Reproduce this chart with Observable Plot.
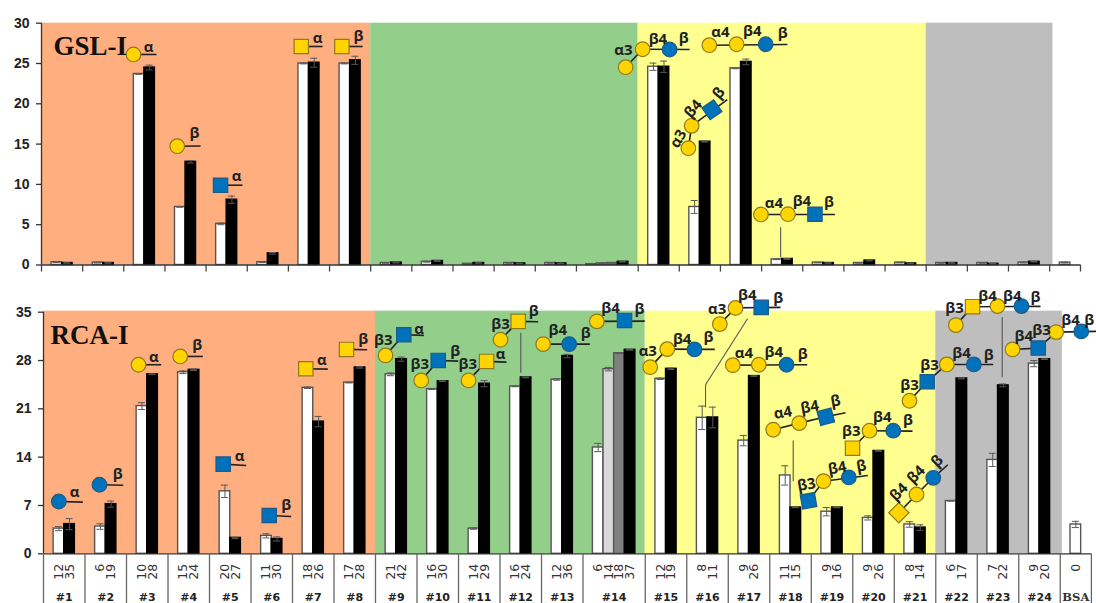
<!DOCTYPE html>
<html>
<head>
<meta charset="utf-8">
<script src="https://cdn.jsdelivr.net/npm/d3@7"></script>
<script src="https://cdn.jsdelivr.net/npm/@observablehq/plot@0.6"></script>
<style>
html,body{margin:0;padding:0;background:#fff;overflow:hidden}
#page{position:relative;width:1096px;height:603px}
#page svg{position:absolute;left:0;overflow:visible;background:transparent}
</style>
</head>
<body>
<div id="page"></div>
<script>
// ---------- categories ----------
const groupNames = ["#1","#2","#3","#4","#5","#6","#7","#8","#9","#10","#11","#12","#13","#14","#15","#16","#17","#18","#19","#20","#21","#22","#23","#24","BSA"];
// Numbers printed under each bar of a group
const barCounts = [[12,35],[6,19],[10,28],[15,24],[20,27],[11,30],[18,26],[17,28],[21,42],[16,30],[14,29],[16,24],[12,36],[6,14,18,37],[12,19],[8,11],[9,26],[11,15],[9,16],[9,26],[8,14],[6,17],[7,22],[9,20],[0]];

// ---------- GSL-I values (bars of each group, then error half-widths) ----------
const gslValues = [[.35,.25],[.3,.25],[23.7,24.5],[7.2,12.8],[5.1,8.1],[.35,1.45],[25,25.1],[25,25.4],[.25,.3],[.4,.5],[.15,.25],[.25,.2],[.25,.2],[.1,.2,.25,.4],[24.6,24.6],[7.2,15.3],[24.4,25.2],[.7,.75],[.3,.25],[.25,.55],[.3,.2],[.25,.25],[.25,.15],[.3,.4],[.3]];
const gslErrors = [[.05,.03],[.05,.03],[.05,.3],[.03,.15],[.1,.45],[.03,.1],[.05,.55],[.05,.5],[.03,.05],[.05,.05],[.03,.03],[.03,.03],[.03,.03],[.03,.03,.03,.03],[.45,.7],[.8,.05],[.05,.35],[.03,.05],[.03,.03],[.03,.05],[.03,.03],[.03,.03],[.03,.03],[.05,.03],[.05]];

// ---------- RCA-I values ----------
const rcaValues = [[3.65,4.3],[3.95,7.2],[21.4,26],[26.3,26.65],[9.05,2.3],[2.6,2.15],[24.05,19.15],[24.8,27],[26,28.2],[23.85,25],[3.65,24.65],[24.25,25.55],[25.25,28.65],[15.4,26.75,29.05,29.55],[25.35,26.8],[19.7,19.75],[16.4,25.75],[11.35,6.7],[6.1,6.7],[5.2,14.9],[4.25,3.8],[7.65,25.4],[13.6,24.4],[27.55,28.2],[4.25]];
const rcaErrors = [[.3,.8],[.4,.45],[.5,.05],[.2,.1],[.9,.1],[.3,.3],[.1,.75],[.05,.1],[.2,.3],[.05,.05],[.1,.45],[.05,.05],[.1,.25],[.6,.25,.05,.05],[.1,.1],[1.7,1.5],[.75,.05],[1.4,.02],[.6,.02],[.3,.05],[.4,.4],[.02,.05],[.95,.2],[.45,.05],[.45]];

// ---------- shaded families: [first slot, last slot, family] ----------
const gslBands = [[0,8,"a"],[8,14.5,"b"],[14.5,21.5,"c"],[21.5,24.58,"d"]];
const rcaBands = [[0,8,"a"],[8,14.5,"b"],[14.5,21.5,"c"],[21.5,24.55,"d"]];

// ---------- glycan annotations, in chart units: [residue, slot, value, rotation] ----------
const gslResidues = [["gal",2.236,26.12],["gal",3.298,14.74],["glcnac",4.351,9.9],["galnac",6.313,27.11],["galnac",7.3,27.11],
["gal",14.195,24.54],["gal",14.609,26.77],["glc",15.265,26.74],
["gal",16.23,27.27],["gal",16.893,27.39],["glc",17.599,27.39],
["gal",15.72,14.49],["gal",15.8,17.27],["glcnac",16.293,19.26,-35],
["gal",17.484,6.27],["gal",18.14,6.3],["glcnac",18.797,6.3]];
const gslBonds = [[2.236,26.12,2.795,26.12],[3.298,14.74,3.865,14.76],[4.351,9.9,4.886,9.9],[6.313,27.11,6.83,27.11],[7.3,27.11,7.803,27.11],
[14.195,24.54,14.609,26.77,15.751,26.74],[16.23,27.27,18.126,27.36],[15.72,14.49,15.8,17.27,16.667,20.53],[17.484,6.27,19.283,6.27]];
const gslLeaders = [[17.963,4.69,17.963,.97]];
const gslLinkages = [["α",2.6,26.99],["β",3.72,16.31],["α",4.74,10.98],["α",6.71,28.1],["β",7.705,28.35],
["α3",14.14,26.61],["β4",14.98,28.06],["β",15.605,28.19],["α4",16.5,28.88],["β4",17.275,29],["β",18.01,28.76],
["α3",15.476,15.66,-60],["β4",15.84,19.38,-50],["β",16.456,21.32,-50],["α4",17.8,7.72],["β4",18.48,7.92],["β",19.137,7.79]];

const rcaResidues = [["glc",.369,7.58],["glc",1.349,10],["gal",2.289,27.39],["gal",3.294,28.59],["glcnac",4.33,12.99],["glcnac",5.439,5.55],["galnac",6.32,26.81],["galnac",7.301,29.61],
["gal",8.241,28.74],["glcnac",8.682,31.74],["gal",9.101,25.12],["glcnac",9.511,28.01],["gal",10.241,25.12],["galnac",10.675,27.87],["gal",11.012,31.01],["galnac",11.439,33.67],
["gal",12.04,30.38],["glc",12.667,30.38],["gal",13.333,33.67],["glcnac",14,33.81],
["gal",14.619,27.04],["gal",15.029,29.65],["glc",15.687,29.61],["gal",16.296,33.28],["gal",16.675,35.62],["glcnac",17.294,35.7],
["gal",16.61,27.33],["gal",17.236,27.39],["glc",17.904,27.39],["gal",17.583,17.97],["gal",18.21,18.93],["glcnac",18.851,19.86,-15],
["glcnac",18.434,7.68,-10],["gal",18.795,10.52],["glc",19.405,11.06],["galnac",19.494,15.3],["gal",19.904,17.83],["glc",20.475,17.83],
["galnac",20.61,5.94,45],["gal",21.036,8.59],["glc",21.439,11.01],
["gal",20.867,22.17],["glcnac",21.294,24.93],["gal",21.766,27.43],["glc",22.417,27.43],
["gal",21.983,33.13],["galnac",22.386,35.8],["gal",22.988,35.88],["glc",23.566,35.88],
["gal",23.349,29.61],["glcnac",23.969,29.8],["gal",24.402,32.12],["glc",25.005,32.22]];
const rcaBonds = [[.369,7.58,.947,7.48],[1.349,10,1.92,9.94],[2.289,27.39,2.836,27.39],[3.294,28.59,3.839,28.59],[4.33,12.99,4.884,12.8],[5.439,5.55,5.969,5.41],[6.32,26.81,6.851,26.75],[7.301,29.61,7.8,29.57],
[8.241,28.74,8.682,31.74,9.164,31.64],[9.101,25.12,9.511,28.01,9.993,27.91],[10.241,25.12,10.675,27.87,11.157,27.77],[11.012,31.01,11.439,33.67,11.92,33.62],
[12.04,30.38,13.164,30.38],[13.333,33.67,14.489,33.71],[14.619,27.04,15.029,29.65,16.176,29.61],[16.296,33.28,16.675,35.62,17.759,35.7],
[16.61,27.33,18.402,27.39],[17.583,17.97,18.21,18.93,18.851,19.86,19.325,20.43],[18.434,7.68,18.795,10.52,19.863,11.35],[19.494,15.3,19.904,17.83,20.94,17.77],
[20.61,5.94,21.036,8.59,21.439,11.01,21.79,12.9],[20.867,22.17,21.294,24.93,21.766,27.43,22.884,27.43],[21.983,33.13,22.386,35.8,24.024,35.84],[23.349,29.61,23.969,29.8,24.402,32.12,25.373,32.22]];
const rcaLeaders = [[11.501,32.03,11.501,26.23],[15.952,21.2,15.952,24.49,16.964,34.06],[18.065,16.42,18.065,10.52],[23.101,34.29,23.101,25.59]];
const rcaLinkages = [["α",.747,8.93],["β",1.79,11.49],["α",2.658,28.49],["β",3.704,30.19],["α",4.723,14.1],["β",5.848,7.1],["α",6.706,28.12],["β",7.704,31.16],
["β3",8.186,30.91],["α",9.053,32.61],["β3",9.067,27.54],["β",9.92,29.32],["β3",10.224,27.43],["α",11.012,28.93],["β3",11.012,33.28],["β",11.814,35.12],
["β4",12.393,32.46],["β",13.067,31.97],["β4",13.663,35.65],["β",14.361,35.41],["α3",14.561,29.36],["β4",15.39,31.16],["β",16.024,31.35],
["α3",16.234,35.41],["β4",16.957,37.43],["β",17.704,37.04],["α4",16.875,29.13],["β4",17.598,29.22],["β",18.296,28.88],
["α4",17.814,20.43,-10],["β4",18.465,21.25,-10],["β",19.084,22.12,-10],["β3",18.386,10,-10],["β4",19.125,12.41,-10],["β",19.704,12.7,-10],
["β3",19.463,17.77],["β4",20.21,19.86],["β",20.827,19.42],["β4",20.61,8.93,-45],["β4",21.029,11.49,-45],["β",21.535,13.42,-45],
["β3",20.867,24.39],["β3",21.349,27.29],["β4",22.12,28.99],["β",22.778,28.84],
["β3",21.952,35.51],["β4",22.747,37.33],["β4",23.342,37.33],["β",23.904,37.19],["β4",23.622,31.54],["β3",24.048,32.46],["β4",24.747,33.91],["β",25.2,33.8]];

const gslTitle = {text:"GSL-I", x:.29, y:27.1};
const rcaTitle = {text:"RCA-I", x:.17, y:31.6};

// ---------- styling & layout ----------
const bandColor = {a:"#FFAE7F", b:"#94CE8B", c:"#FFFF8F", d:"#BEBEBE"};
const barFill2 = ["#FFFFFF","#000000"];
const barFill4 = ["#FFFFFF","#D9D9D9","#808080","#000000"];
const residueStyle = {
  gal:{symbol:"circle", fill:"#FFD400", stroke:"#8F7B1E", r:7.3},
  glc:{symbol:"circle", fill:"#0072BC", stroke:"#1D5A85", r:7.3},
  glcnac:{symbol:"square", fill:"#0072BC", stroke:"#1D5A85", r:8.1},
  galnac:{symbol:"square", fill:"#FFD400", stroke:"#8F7B1E", r:8.1}
};
const slotWidth = groupNames.map(n => n === "#14" ? 1.5 : n === "BSA" ? .75 : 1);
const slotEdges = [0, ...d3.cumsum(slotWidth)];
const barWidth = 0.256;
const xDomain = [0, slotEdges[slotEdges.length - 1]];

function barsOf(values, errors) {
  return values.flatMap((vals, g) => {
    const c = (slotEdges[g] + slotEdges[g + 1]) / 2;
    const fills = vals.length === 4 ? barFill4 : barFill2;
    return vals.map((v, i) => ({
      x1: c + (i - vals.length / 2) * barWidth,
      x2: c + (i + 1 - vals.length / 2) * barWidth,
      xc: c + (i + .5 - vals.length / 2) * barWidth,
      v, e: errors[g][i], fill: fills[i],
      count: barCounts[g][i]
    }));
  });
}
const segs = chains => chains.flatMap(ch => {
  const pts = d3.range(0, ch.length, 2).map(i => [ch[i], ch[i + 1]]);
  return d3.pairs(pts).map(([a, b]) => ({x1:a[0], y1:a[1], x2:b[0], y2:b[1]}));
});

function panel({values, errors, bands, bandTop, yMax, yTicks, residues, bonds, leaders, linkages, title, layout, lower}) {
  const bars = barsOf(values, errors);
  const marks = [
    ...bands.map(b => Plot.rect([b], {x1:d=>d[0], x2:d=>d[1], y1:0, y2:bandTop, fill:bandColor[b[2]]})),
    Plot.rect(bars, {x1:"x1", x2:"x2", y1:0, y2:"v", fill:"fill", stroke:d=>d.fill === "#000000" ? "#000000" : "#555", strokeWidth:1.4}),
    Plot.ruleX(bars, {x:"xc", y1:d=>d.v - d.e, y2:d=>d.v + d.e, stroke:"#5a5a5a", strokeWidth:1}),
    Plot.ruleY(bars, {y:d=>d.v + d.e, x1:d=>d.xc - .085, x2:d=>d.xc + .085, stroke:"#5a5a5a", strokeWidth:1}),
    Plot.ruleY(bars, {y:d=>d.v - d.e, x1:d=>d.xc - .085, x2:d=>d.xc + .085, stroke:"#5a5a5a", strokeWidth:1}),
    Plot.ruleX([0], {y1:0, y2:yMax, stroke:"#333", strokeWidth:1.3}),
    Plot.ruleY([0], {stroke:"#333", strokeWidth:1.3}),
    Plot.axisY({ticks:yTicks, tickSize:5, tickPadding:7, label:null, fontSize:14, fontWeight:"bold", fontFamily:"Liberation Sans", stroke:"#333", color:"#222", strokeWidth:1.3}),
    Plot.axisX({ticks:slotEdges, tickSize:lower ? 50 : 7, tickFormat:()=>"", label:null, stroke:lower ? "#666" : "#444", strokeWidth:1.3}),
    Plot.link(segs(leaders), {x1:"x1", y1:"y1", x2:"x2", y2:"y2", stroke:"#555", strokeWidth:1.1}),
    Plot.link(segs(bonds), {x1:"x1", y1:"y1", x2:"x2", y2:"y2", stroke:"#222", strokeWidth:1.6}),
    ...Object.entries(residueStyle).map(([k, s]) =>
      Plot.dot(residues.filter(r => r[0] === k), {x:d=>d[1], y:d=>d[2], symbol:s.symbol, r:s.r, fill:s.fill, stroke:s.stroke, strokeWidth:1.2, rotate:d=>d[3] || 0})),
    Plot.text(linkages, {x:d=>d[1], y:d=>d[2], text:d=>d[0], rotate:d=>d[3] || 0, fontSize:15, fontWeight:"bold", fontFamily:"Open Sans", fill:"#222"}),
    Plot.text([title], {x:"x", y:"y", text:"text", textAnchor:"start", fontSize:27, fontWeight:"bold", fontFamily:"Liberation Serif", fill:"#111"})
  ];
  if (lower) {
    marks.push(
      Plot.text(bars, {x:"xc", y:()=>0, text:d=>String(d.count), rotate:-90, textAnchor:"end", dy:10, fontSize:12.5, fontFamily:"DejaVu Sans", fill:"#333"}),
      Plot.text(groupNames.map((n, g) => ({n, c:(slotEdges[g] + slotEdges[g + 1]) / 2})).filter(d => d.n !== "BSA"), {
        x:"c", y:()=>0, text:"n", dy:43.5, fontSize:11, fontWeight:"bold", fontFamily:"DejaVu Sans", fill:"#222"}),
      Plot.text(groupNames.map((n, g) => ({n, c:(slotEdges[g] + slotEdges[g + 1]) / 2})).filter(d => d.n === "BSA"), {
        x:"c", y:()=>0, text:"n", dy:43.5, fontSize:11.5, fontWeight:"bold", fontFamily:"DejaVu Serif", fill:"#333"})
    );
  }
  return Plot.plot({
    width:1096, height:layout.height,
    marginLeft:layout.left, marginRight:layout.right, marginTop:layout.top, marginBottom:layout.bottom,
    x:{domain:xDomain, axis:null},
    y:{domain:[0, yMax], axis:null},
    style:{background:"transparent", overflow:"visible"},
    marks
  });
}

const upper = panel({values:gslValues, errors:gslErrors, bands:gslBands, bandTop:30, yMax:30, yTicks:[0,5,10,15,20,25,30],
  residues:gslResidues, bonds:gslBonds, leaders:gslLeaders, linkages:gslLinkages, title:gslTitle,
  layout:{height:295, left:41, right:16, top:22.7, bottom:30.5}, lower:false});
const lowerPanel = panel({values:rcaValues, errors:rcaErrors, bands:rcaBands, bandTop:35.15, yMax:35, yTicks:[0,7,14,21,28,35],
  residues:rcaResidues, bonds:rcaBonds, leaders:rcaLeaders, linkages:rcaLinkages, title:rcaTitle,
  layout:{height:308, left:43, right:5.1, top:16.7, bottom:49.7}, lower:true});
upper.style.top = "0px";
lowerPanel.style.top = "295px";
document.getElementById("page").append(upper, lowerPanel);
</script>
</body>
</html>
